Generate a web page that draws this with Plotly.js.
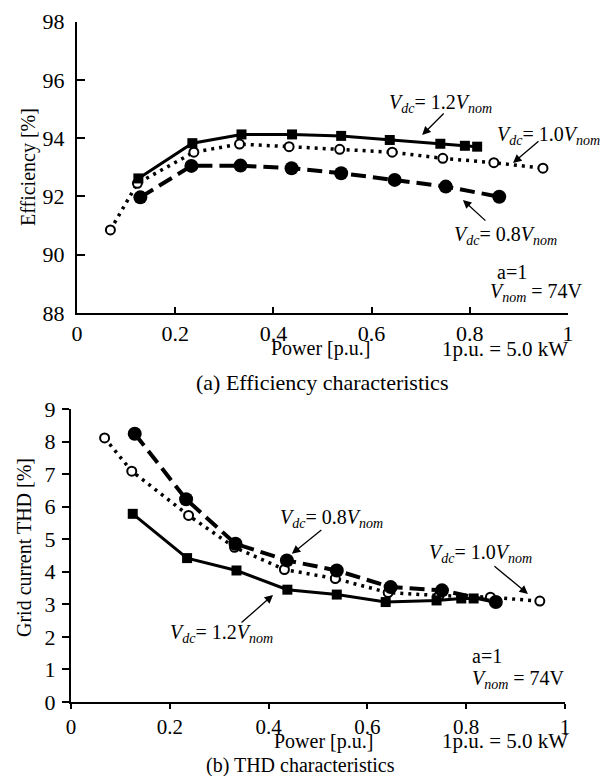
<!DOCTYPE html>
<html>
<head>
<meta charset="utf-8">
<script src="https://cdn.plot.ly/plotly-3.0.1.min.js"></script>
<style>
  html, body { margin: 0; padding: 0; background: #fff; }
  #chart { width: 605px; height: 776px; }
</style>
</head>
<body>
<div id="chart"></div>
<script>
// Measured operating points (output power in p.u., 1 p.u. = 5.0 kW)
const power12 = [0.125, 0.235, 0.335, 0.438, 0.538, 0.637, 0.740, 0.790, 0.815];
const power10 = [0.068, 0.123, 0.238, 0.331, 0.432, 0.535, 0.642, 0.745, 0.849, 0.949];
const power08 = [0.129, 0.233, 0.333, 0.437, 0.538, 0.647, 0.751, 0.860];

// Efficiency [%]
const eff12 = [92.62, 93.83, 94.13, 94.13, 94.08, 93.94, 93.81, 93.74, 93.71];
const eff10 = [90.85, 92.45, 93.52, 93.80, 93.71, 93.62, 93.52, 93.31, 93.16, 92.97];
const eff08 = [91.97, 93.05, 93.06, 92.97, 92.80, 92.57, 92.34, 91.99];

// Grid current THD [%]
const thd12 = [5.78, 4.42, 4.04, 3.45, 3.30, 3.07, 3.12, 3.18, 3.18];
const thd10 = [8.11, 7.09, 5.73, 4.75, 4.07, 3.79, 3.36, 3.27, 3.22, 3.10];
const thd08 = [8.24, 6.23, 4.86, 4.35, 4.04, 3.53, 3.43, 3.07];

// Axis ticks
const powerTicks = [0, 0.2, 0.4, 0.6, 0.8, 1];
const powerTickText = ['0', '0.2', '0.4', '0.6', '0.8', '1'];
const effTicks = [88, 90, 92, 94, 96, 98];
const thdTicks = [0, 1, 2, 3, 4, 5, 6, 7, 8, 9];

// Annotation labels
const labelV12 = '<i>V</i><sub><i>dc</i></sub>= 1.2<i>V</i><sub><i>nom</i></sub>';
const labelV10 = '<i>V</i><sub><i>dc</i></sub>= 1.0<i>V</i><sub><i>nom</i></sub>';
const labelV08 = '<i>V</i><sub><i>dc</i></sub>= 0.8<i>V</i><sub><i>nom</i></sub>';
const labelA = 'a=1';
const labelVnom = '<i>V</i><sub><i>nom</i></sub> = 74V';
const labelPower = 'Power [p.u.]';
const labelBase = '1p.u. = 5.0 kW';
const captionA = '(a) Efficiency characteristics';
const captionB = '(b) THD characteristics';
const titleEff = 'Efficiency [%]';
const titleThd = 'Grid current THD [%]';

const W = 605, H = 776;
const FONT = 'Liberation Serif, Times New Roman, serif';
const px = v => v / W;
const py = v => 1 - v / H;

const solid = { color: '#000', width: 3 };
const dotted = { color: '#000', width: 3.5, dash: '3px,5px' };
const dashed = { color: '#000', width: 4, dash: '15px,7px' };
const mSquare = { symbol: 'square', size: 10, color: '#000' };
const mOpen = { symbol: 'circle', size: 9, color: '#fff', line: { color: '#000', width: 2 } };
const mFilled = { symbol: 'circle', size: 14, color: '#000' };

function series(x, y, line, marker, xa, ya) {
  return { x, y, mode: 'lines+markers', line, marker, xaxis: xa, yaxis: ya,
           showlegend: false, hoverinfo: 'skip', cliponaxis: false };
}

const data = [
  series(power10, eff10, dotted, mOpen, 'x', 'y'),
  series(power08, eff08, dashed, mFilled, 'x', 'y'),
  series(power12, eff12, solid, mSquare, 'x', 'y'),
  series(power10, thd10, dotted, mOpen, 'x2', 'y2'),
  series(power08, thd08, dashed, mFilled, 'x2', 'y2'),
  series(power12, thd12, solid, mSquare, 'x2', 'y2')
];

const axisBase = {
  showline: true, linecolor: '#000', linewidth: 2,
  showgrid: false, zeroline: false, tickcolor: '#000', tickwidth: 2,
  tickfont: { family: FONT, size: 22, color: '#000' }, fixedrange: true
};

function txt(text, x, y, opts) {
  return Object.assign({ text, x: px(x), y: py(y), xref: 'paper', yref: 'paper',
    showarrow: false, font: { family: FONT, size: 20, color: '#000' },
    xanchor: 'center', yanchor: 'middle' }, opts || {});
}
function arrow(xa, ya, x, y, ax, ay) {
  return { text: '', x, y, xref: xa, yref: ya, ax, ay, axref: 'pixel', ayref: 'pixel',
    showarrow: true, arrowhead: 2, arrowsize: 1.3, arrowwidth: 1.3, arrowcolor: '#000' };
}
const f20 = { family: FONT, size: 20, color: '#000' };
const f21 = { family: FONT, size: 21, color: '#000' };
const f22 = { family: FONT, size: 22, color: '#000' };

const annotations = [
  // efficiency chart
  txt(labelV12, 440, 104),
  arrow('x', 'y', 0.703, 94.11, 23, -23),
  txt(labelV10, 548, 135),
  arrow('x', 'y', 0.888, 93.15, 27, -23),
  txt(labelV08, 505, 235),
  arrow('x', 'y', 0.786, 91.88, 24, 22),
  txt(labelA, 495, 272, { xanchor: 'left' }),
  txt(labelVnom, 488, 292, { xanchor: 'left' }),
  txt(labelPower, 320, 349),
  txt(labelBase, 570, 349, { xanchor: 'right', font: f21 }),
  txt(captionA, 322, 382, { font: f22 }),
  txt(titleEff, 28, 167, { textangle: -90 }),
  // THD chart
  txt(labelV08, 331, 518),
  arrow('x2', 'y2', 0.447, 4.55, 31, -25),
  txt(labelV10, 480, 553),
  arrow('x2', 'y2', 0.925, 3.32, -35, -29),
  txt(labelV12, 221, 633),
  arrow('x2', 'y2', 0.409, 3.29, -33, 29),
  txt(labelA, 470, 656, { xanchor: 'left' }),
  txt(labelVnom, 470, 679, { xanchor: 'left' }),
  txt(labelPower, 323, 741),
  txt(labelBase, 570, 741, { xanchor: 'right', font: f21 }),
  txt(captionB, 300, 765, { font: f20 }),
  txt(titleThd, 24, 548, { textangle: -90 })
];

const layout = {
  width: W, height: H,
  margin: { l: 0, r: 0, t: 0, b: 0 },
  paper_bgcolor: '#fff', plot_bgcolor: '#fff',
  font: { family: FONT, color: '#000' },
  xaxis: Object.assign({}, axisBase, {
    domain: [px(77), px(568)], range: [0, 1], anchor: 'y',
    tickvals: powerTicks, ticktext: powerTickText, ticks: 'inside', ticklen: 6
  }),
  yaxis: Object.assign({}, axisBase, {
    domain: [py(313), py(21.7)], range: [88, 98], anchor: 'x',
    tickvals: effTicks, ticks: 'inside', ticklen: 8, ticklabelstandoff: 6
  }),
  xaxis2: Object.assign({}, axisBase, {
    domain: [px(71), px(565)], range: [0, 1], anchor: 'y2',
    tickvals: powerTicks, ticktext: powerTickText, ticks: 'outside', ticklen: 5,
    tickfont: { family: FONT, size: 21, color: '#000' }
  }),
  yaxis2: Object.assign({}, axisBase, {
    domain: [py(702), py(409)], range: [0, 9], anchor: 'x2',
    tickvals: thdTicks, ticks: 'outside', ticklen: 7, ticklabelstandoff: 2
  }),
  annotations
};

Plotly.newPlot('chart', data, layout, { staticPlot: true, displayModeBar: false });
</script>
</body>
</html>
